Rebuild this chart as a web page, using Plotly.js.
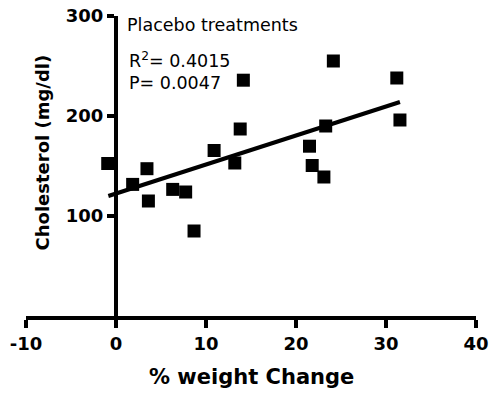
<!DOCTYPE html>
<html>
<head>
<meta charset="utf-8">
<script src="https://cdn.plot.ly/plotly-3.0.1.min.js"></script>
<style>html,body{margin:0;padding:0;background:#fff;}#chart{width:490px;height:394px;}</style>
</head>
<body>
<div id="chart"></div>
<script>
// % weight change (x) and cholesterol mg/dl (y)
const weightChange = [-0.92, 1.85, 3.44, 3.6, 6.3, 7.74, 8.67, 10.9, 13.2, 13.8, 14.15, 21.5, 21.8, 23.1, 23.3, 24.15, 31.2, 31.55];
const cholesterol  = [152.5, 131.6, 147.3, 115, 126.6, 124, 85, 165.5, 153, 187, 235.8, 169.8, 150.5, 139, 190, 255, 238, 196];
// regression line end points
const fitX = [-0.85, 31.55];
const fitY = [120.0, 214.0];
const xTicks = [-10, 0, 10, 20, 30, 40];
const yTicks = [100, 200, 300];
const titleText = "Placebo treatments";
const r2Text = "R<sup>2</sup>= 0.4015";
const pText = "P= 0.0047";
const xTitle = "% weight Change";
const yTitle = "Cholesterol (mg/dl)";

const FONT = "DejaVu Sans, Arial, sans-serif";

const traces = [
  {x: fitX, y: fitY, mode: 'lines', line: {color: '#000', width: 4}, hoverinfo: 'skip', cliponaxis: false},
  {x: weightChange, y: cholesterol, mode: 'markers', cliponaxis: false,
   marker: {symbol: 'square', size: 13, color: '#000', line: {width: 0}}}
];

const L = 26, R = 14, T = 16, B = 78;
const W = 490, H = 394;
const pw = W - L - R, ph = H - T - B;
function px(xp){ return (xp - L) / pw; }
function py(yp){ return (H - B - yp) / ph; }

const layout = {
  width: W, height: H,
  margin: {l: L, r: R, t: T, b: B, pad: 0},
  paper_bgcolor: '#fff', plot_bgcolor: '#fff',
  showlegend: false,
  xaxis: {
    range: [-10, 40], tickvals: xTicks, ticktext: xTicks.map(String),
    showgrid: false, zeroline: false, showline: true, linecolor: '#000', linewidth: 4,
    ticks: 'outside', ticklen: 8, tickwidth: 3.5, tickcolor: '#000',
    tickfont: {family: FONT, size: 18, color: '#000', weight: 'bold'}
  },
  yaxis: {
    range: [0, 300], tickvals: yTicks, ticktext: yTicks.map(String),
    anchor: 'free', position: 0.2,
    showgrid: false, zeroline: false, showline: true, linecolor: '#000', linewidth: 4,
    ticks: 'outside', ticklen: 7, tickwidth: 3.5, tickcolor: '#000',
    tickfont: {family: FONT, size: 18, color: '#000', weight: 'bold'}
  },
  annotations: [
    {text: titleText, xref: 'paper', yref: 'paper', x: px(125), y: py(25), xanchor: 'left', yanchor: 'middle',
     showarrow: false, font: {family: FONT, size: 17.5, color: '#000'}},
    {text: r2Text, xref: 'paper', yref: 'paper', x: px(127), y: py(60), xanchor: 'left', yanchor: 'middle',
     showarrow: false, font: {family: FONT, size: 17.5, color: '#000'}},
    {text: pText, xref: 'paper', yref: 'paper', x: px(127), y: py(83), xanchor: 'left', yanchor: 'middle',
     showarrow: false, font: {family: FONT, size: 17.5, color: '#000'}},
    {text: xTitle, xref: 'paper', yref: 'paper', x: px(251), y: py(377), xanchor: 'center', yanchor: 'middle',
     showarrow: false, font: {family: FONT, size: 21, color: '#000', weight: 'bold'}},
    {text: yTitle, xref: 'paper', yref: 'paper', x: px(42), y: py(152.5), xanchor: 'center', yanchor: 'middle',
     textangle: -90, showarrow: false, font: {family: FONT, size: 18, color: '#000', weight: 'bold'}}
  ]
};

Plotly.newPlot('chart', traces, layout, {displayModeBar: false, staticPlot: true});
</script>
</body>
</html>
